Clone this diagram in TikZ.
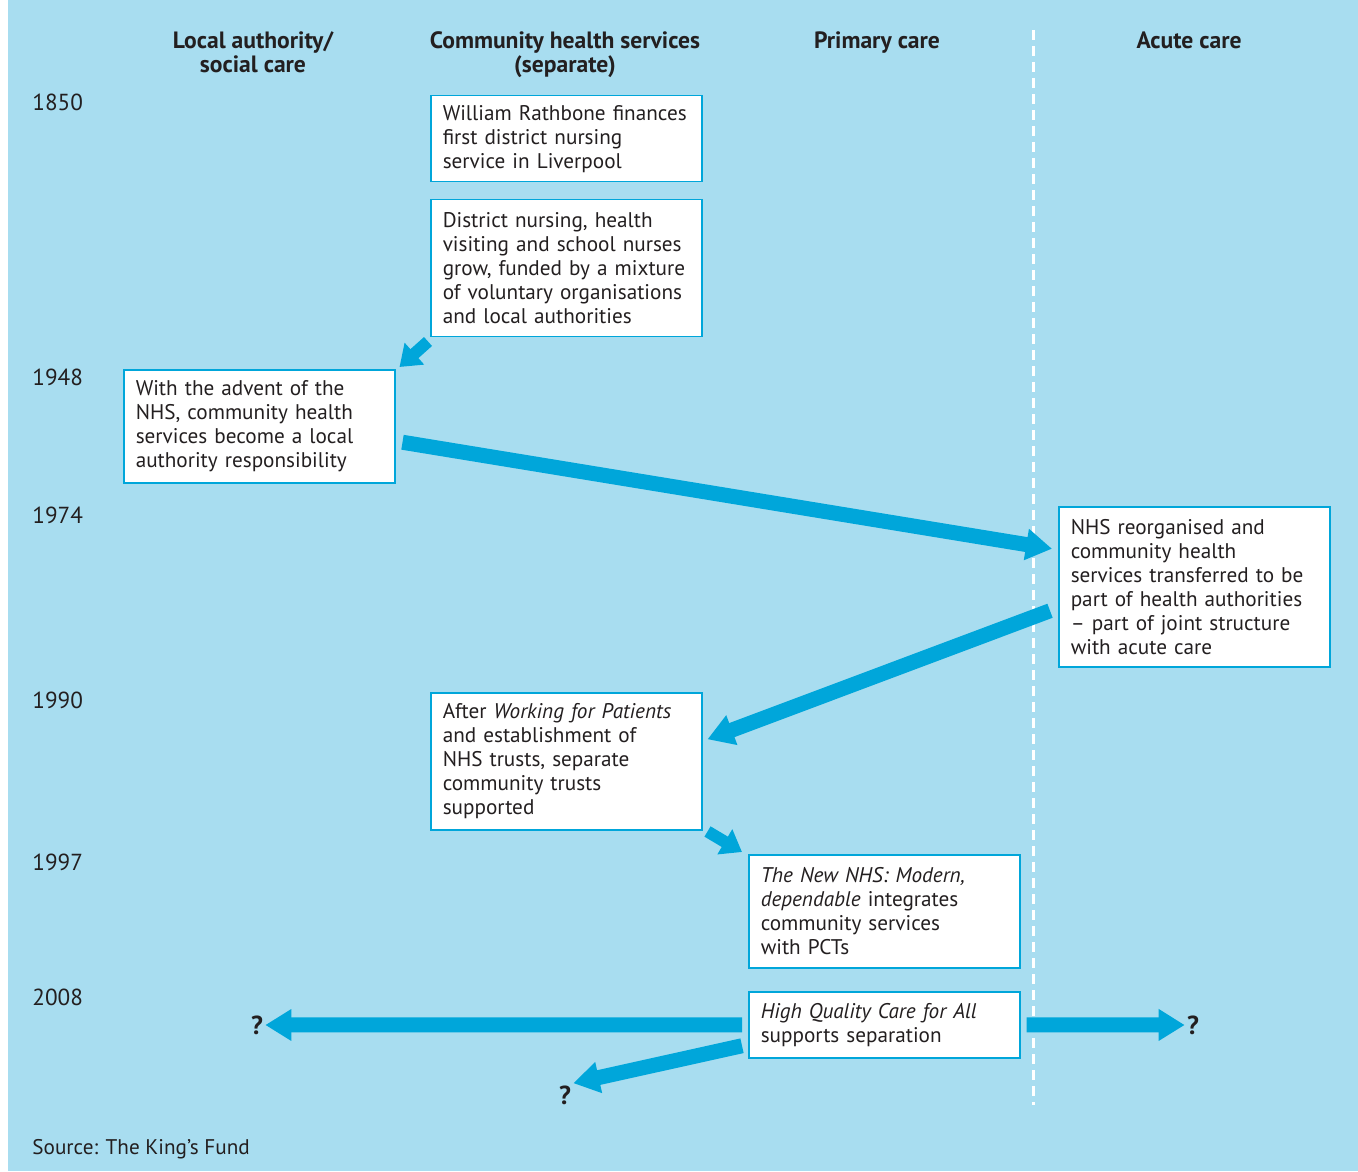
\documentclass[tikz,border=0pt]{standalone}
\usepackage{fontspec}
\setmainfont{PT Sans}
\usepackage{tikz}
\usetikzlibrary{arrows.meta,positioning,calc}
\definecolor{bgblue}{HTML}{A8DDF0}
\definecolor{kfblue}{HTML}{00A6DA}
\definecolor{kftext}{HTML}{231F20}
\tikzset{
  box/.style={draw=kfblue, line width=0.75pt, fill=white, text=kftext, anchor=north west,
    text width=123.5pt, inner xsep=6pt, inner ysep=0pt, align=left,
    font=\fontsize{10.6}{12}\selectfont},
  head/.style={text=kftext, align=center, font=\fontsize{11.8}{12}\selectfont\bfseries},
  year/.style={text=kftext, anchor=west, inner sep=0pt, font=\fontsize{11.6}{12}\selectfont},
  quest/.style={text=kftext, inner sep=1pt, font=\fontsize{13}{12}\selectfont\bfseries},
  bigarr/.style={line width=7.5pt, color=kfblue, -{Triangle[length=13pt,width=15pt]}},
  smallarr/.style={line width=6pt, color=kfblue, -{Triangle[length=10pt,width=14pt]}}
}
\begin{document}
\begin{tikzpicture}[x=0.5pt, y=-0.5pt]
  \useasboundingbox (0,0) rectangle (1358,1171);
  \fill[bgblue] (8,0) rectangle (1358,1171);

  %% columns
  \coordinate (div_top) at (1033,30);
  \coordinate (div_bot) at (1033,1105);
  \draw[white, line width=1.5pt, dash pattern=on 5pt off 3pt] (div_top) -- (div_bot);
  \node[head] (head_la) at (253,52) {Local authority/\\social care};
  \node[head] (head_chs) at (565,55) {Community health services\\(separate)};
  \node[head] (head_pc) at (877,43) {Primary care};
  \node[head] (head_ac) at (1189,40) {Acute care};

  %% years
  \foreach \yr/\yy in {1850/102, 1948/377, 1974/515, 1990/700, 1997/862, 2008/997} {
    \node[year, name=year_\yr] at (32,\yy) {\yr};
  }

  %% boxes
  \node[box, minimum height=43pt] (box_1850) at (430,95)
    {William Rathbone finances\\first district nursing\\service in Liverpool};
  \node[box, minimum height=68.5pt] (box_grow) at (430,199)
    {District nursing, health\\visiting and school nurses\\grow, funded by a mixture\\of voluntary organisations\\and local authorities};
  \node[box, minimum height=56.5pt] (box_1948) at (123,369)
    {With the advent of the\\NHS, community health\\services become a local\\authority responsibility};
  \node[box, minimum height=80pt] (box_1974) at (1058,506)
    {NHS reorganised and\\community health\\services transferred to be\\part of health authorities\\– part of joint structure\\with acute care};
  \node[box, minimum height=68.5pt] (box_1990) at (430,692)
    {After \textit{Working for Patients}\\and establishment of\\NHS trusts, separate\\community trusts\\supported};
  \node[box, minimum height=56.5pt] (box_1997) at (748,854)
    {\textit{The New NHS: Modern,}\\\textit{dependable} integrates\\community services\\with PCTs};
  \node[box, minimum height=33pt] (box_2008) at (748,991)
    {\textit{High Quality Care for All}\\supports separation};

  %% question marks
  \node[quest] (q_left) at (257,1025) {?};
  \node[quest] (q_right) at (1193,1025) {?};
  \node[quest] (q_down) at (565,1095) {?};

  %% arrows
  \draw[smallarr] ([shift={(-2,4)}]box_grow.south west) -- ([shift={(4,-2)}]box_1948.north east);
  \draw[bigarr] ([shift={(7,16)}]box_1948.east) -- ([shift={(-6,-38)}]box_1974.west);
  \draw[bigarr] ([shift={(-8,24)}]box_1974.west) -- ([shift={(5,-22)}]box_1990.east);
  \draw[smallarr] ([shift={(5,1)}]box_1990.south east) -- ([shift={(-6,-2)}]box_1997.north west);
  \draw[bigarr] ([xshift=-3]box_2008.west) -- (q_left.east);
  \draw[bigarr] ([xshift=3]box_2008.east) -- (q_right.west);
  \draw[bigarr] ([shift={(-6,21)}]box_2008.west) -- (q_down.north east);

  \node[year, font=\fontsize{10.6}{12}\selectfont] (source) at (32,1149) {Source: The King’s Fund};
\end{tikzpicture}
\end{document}
